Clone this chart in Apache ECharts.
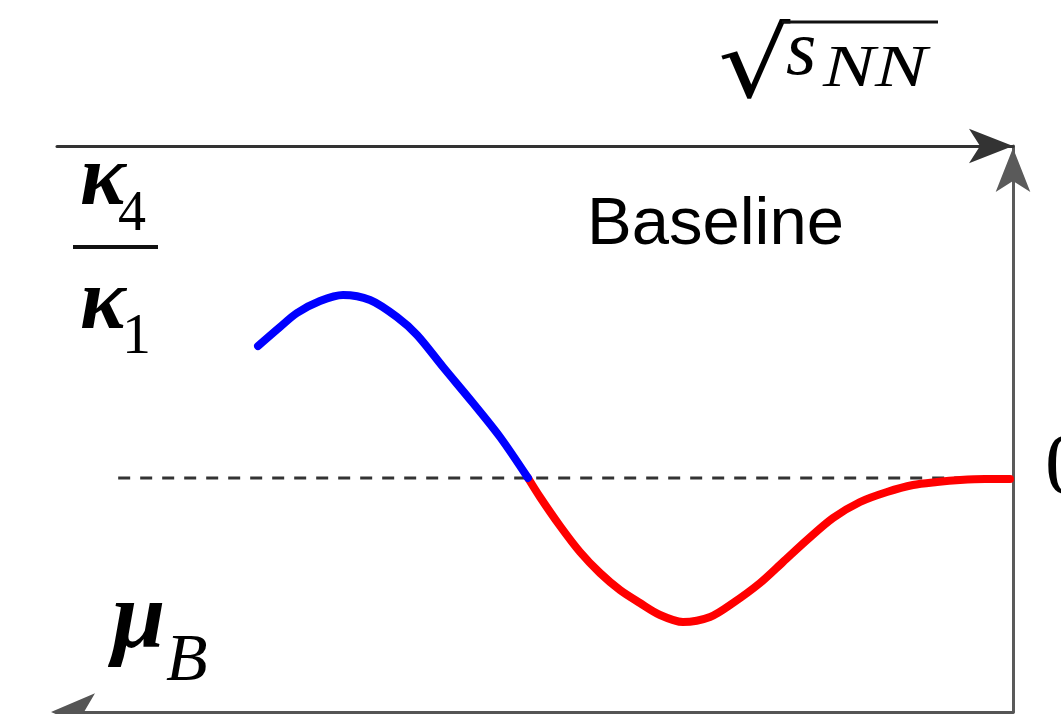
<!DOCTYPE html>
<html><head><meta charset="utf-8">
<script src="https://cdn.jsdelivr.net/npm/echarts@6/dist/echarts.min.js"></script>
<style>html,body{margin:0;padding:0;background:#fff}#c{width:1061px;height:714px}</style>
</head><body><div id="c"></div>
<script>
// Curve (x: 0..100 along the axis, y: 0 = baseline)
const blueX = [21.03, 23.33, 25.10, 27.51, 29.92, 32.74, 35.56, 37.66, 40.38, 43.51, 46.34, 49.27];
const blueY = [1.32, 1.51, 1.65, 1.77, 1.83, 1.78, 1.61, 1.43, 1.11, 0.75, 0.41, 0.0];
const redX = [49.27, 50.52, 52.62, 54.71, 56.80, 58.89, 60.98, 63.08, 65.48, 68.31, 70.71, 73.54, 75.94, 78.45, 81.17, 84.00, 86.82, 89.54, 92.05, 94.46, 97.07, 99.69];
const redY = [0.0, -0.19, -0.48, -0.74, -0.95, -1.12, -1.25, -1.37, -1.44, -1.39, -1.25, -1.05, -0.84, -0.62, -0.40, -0.24, -0.14, -0.07, -0.04, -0.02, -0.01, -0.01];
const baseX = [6.4, 99.7];
const baseY = [0, 0];
const xRange = [0, 100];
const yRange = [-2.34, 3.32];

const zip = (a, b) => a.map((v, i) => [v, b[i]]);
const chart = echarts.init(document.getElementById('c'));
const serif = '"Liberation Serif", "DejaVu Serif", serif';
const greek = { fontFamily: serif, fontStyle: 'italic', fontWeight: 'bold', fill: '#000' };
const ital = { fontFamily: serif, fontStyle: 'italic', fill: '#000' };
const up = { fontFamily: serif, fill: '#000' };
function txt(text, x, y, size, base, sx, sy) {
  return { type: 'text', x: x, y: y, scaleX: sx || 1, scaleY: sy || 1,
    style: Object.assign({ text: text, fontSize: size, verticalAlign: 'middle', align: 'left' }, base) };
}
const hidden = { axisTick: { show: false }, axisLabel: { show: false }, splitLine: { show: false } };
chart.setOption({
  animation: false,
  grid: { left: 57, right: 48, top: 146, bottom: 2 },
  xAxis: [
    Object.assign({ type: 'value', position: 'top', min: xRange[0], max: xRange[1],
      axisLine: { show: true, onZero: false, lineStyle: { color: '#333', width: 3 }, symbol: ['none', 'arrow'], symbolSize: [26, 44], symbolOffset: [0, 0] } }, hidden),
    Object.assign({ type: 'value', position: 'bottom', min: xRange[0], max: xRange[1],
      axisLine: { show: true, onZero: false, lineStyle: { color: '#555', width: 3 }, symbol: ['arrow', 'none'], symbolSize: [28, 44], symbolOffset: [-6, 0] } }, hidden)
  ],
  yAxis: Object.assign({ type: 'value', position: 'right', min: yRange[0], max: yRange[1],
    axisLine: { show: true, onZero: false, lineStyle: { color: '#5a5a5a', width: 3 }, symbol: ['none', 'arrow'], symbolSize: [26, 44], symbolOffset: [0, -2] } }, hidden),
  series: [
    { type: 'line', data: zip(baseX, baseY), symbol: 'none', z: 1, silent: true,
      lineStyle: { color: '#333', width: 3, type: [12, 10] } },
    { type: 'line', data: zip(redX, redY), symbol: 'none', smooth: 0.3, z: 2,
      lineStyle: { color: '#ff0000', width: 8, cap: 'round' } },
    { type: 'line', data: zip(blueX, blueY), symbol: 'none', smooth: 0.3, z: 3,
      lineStyle: { color: '#0000ff', width: 8, cap: 'round' } }
  ],
  graphic: [
    txt('√', 718, 72, 80, { fontFamily: '"DejaVu Sans", sans-serif', fill: '#000' }, 1.42, 1.2),
    { type: 'line', shape: { x1: 782, y1: 22, x2: 938, y2: 22 }, style: { stroke: '#111', lineWidth: 3 } },
    txt('s', 786, 53, 78, ital),
    txt('NN', 823, 70, 60, ital, 1.3, 1),
    txt('κ', 80, 182, 86, greek),
    txt('4', 118, 215, 56, up),
    { type: 'line', shape: { x1: 73, y1: 247, x2: 158, y2: 247 }, style: { stroke: '#111', lineWidth: 4 } },
    txt('κ', 80, 306, 86, greek),
    txt('1', 122, 338, 58, up),
    txt('μ', 112, 622, 96, greek),
    txt('B', 166, 662, 68, ital),
    txt('Baseline', 587, 226, 67, { fontFamily: '"Liberation Sans", Arial, sans-serif', fill: '#000' }),
    txt('0', 1045, 470, 86, up)
  ]
});
</script>
</body></html>
